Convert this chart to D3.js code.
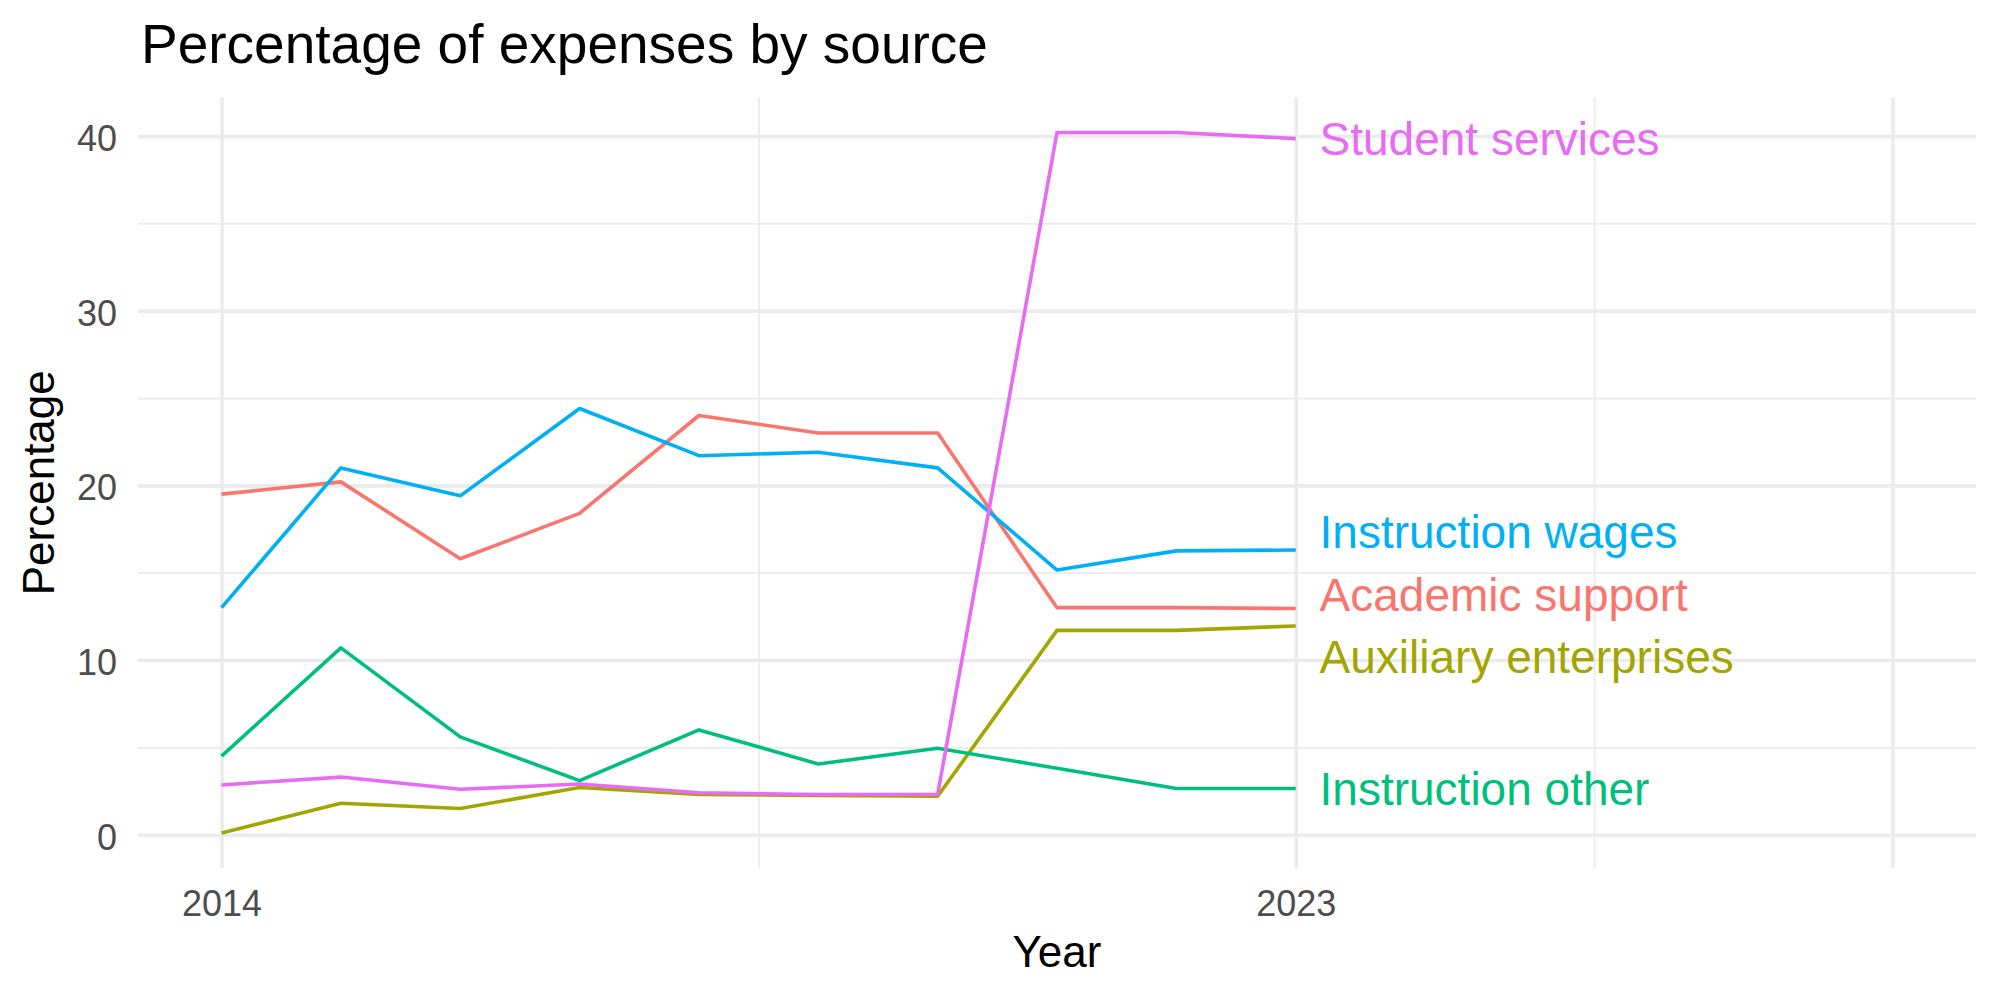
<!DOCTYPE html>
<html>
<head>
<meta charset="utf-8">
<script src="https://cdn.jsdelivr.net/npm/d3@7"></script>
<style>
  body { margin: 0; background: #fff; }
  svg text { font-family: "Liberation Sans", Arial, Helvetica, sans-serif; }
</style>
</head>
<body>
<div id="chart"></div>
<script>
// chart values
var years = [2014, 2015, 2016, 2017, 2018, 2019, 2020, 2021, 2022, 2023];
var categories = ["Academic support", "Auxiliary enterprises", "Instruction other", "Instruction wages", "Student services"];
var academicSupport  = [19.5, 20.2, 15.8, 18.4, 24.0, 23.0, 23.0, 13.0, 13.0, 12.95];
var auxiliary        = [0.1, 1.8, 1.5, 2.7, 2.3, 2.25, 2.2, 11.7, 11.7, 11.95];
var instructionOther = [4.5, 10.7, 5.6, 3.1, 6.0, 4.05, 4.95, 3.8, 2.65, 2.65];
var instructionWages = [13.0, 21.0, 19.4, 24.4, 21.7, 21.9, 21.0, 15.15, 16.25, 16.3];
var studentServices  = [2.85, 3.3, 2.6, 2.9, 2.4, 2.3, 2.3, 40.2, 40.2, 39.85];
var xBreaks = [2014, 2023, 2028];
var xMinor = [2018.5, 2025.5];
var xLabels = [2014, 2023];
var yBreaks = [0, 10, 20, 30, 40];
var yMinor = [5, 15, 25, 35];

var seriesValues = [academicSupport, auxiliary, instructionOther, instructionWages, studentServices];
var colors = ["#F8766D", "#A3A500", "#00BF7D", "#00B0F6", "#E76BF3"];

var width = 2000, height = 1000;
var margin = {top: 97.5, right: 24, bottom: 132, left: 138};
var pw = width - margin.left - margin.right,
    ph = height - margin.top - margin.bottom;

var series = categories.map(function(c, i) {
  return {name: c, color: colors[i], values: years.map(function(y, j) { return {year: y, value: seriesValues[i][j]}; })};
});

// x runs to 2028 to leave room for the labels, ggplot style 5% padding
var xLo = 2014, xHi = 2028, xPad = (xHi - xLo) * 0.05;
var x = d3.scaleLinear().domain([xLo - xPad, xHi + xPad]).range([0, pw]);

var allVals = d3.merge(seriesValues);
var yLo = d3.min(allVals), yHi = d3.max(allVals), yPad = (yHi - yLo) * 0.05;
var y = d3.scaleLinear().domain([yLo - yPad, yHi + yPad]).range([ph, 0]);

var svg = d3.select("#chart").append("svg")
  .attr("width", width)
  .attr("height", height);

var g = svg.append("g")
  .attr("transform", "translate(" + margin.left + "," + margin.top + ")");

// grid lines (minor first, then major)
function grid(axis, cls, sw) {
  var a = g.append("g").attr("class", cls);
  a.call(axis);
  a.select(".domain").remove();
  a.selectAll("line").attr("stroke", "#EBEBEB").attr("stroke-width", sw);
  a.selectAll("text").remove();
  return a;
}
grid(d3.axisLeft(y).tickValues(yMinor).tickSize(-pw).tickFormat(""), "ygrid-minor", 1.8);
grid(d3.axisBottom(x).tickValues(xMinor).tickSize(ph).tickFormat(""), "xgrid-minor", 1.8);
grid(d3.axisLeft(y).tickValues(yBreaks).tickSize(-pw).tickFormat(""), "ygrid", 3.6);
grid(d3.axisBottom(x).tickValues(xBreaks).tickSize(ph).tickFormat(""), "xgrid", 3.6);

// tick labels
var yAxis = g.append("g")
  .call(d3.axisLeft(y).tickValues(yBreaks).tickSize(0).tickPadding(21).tickFormat(d3.format("d")));
yAxis.select(".domain").remove();
yAxis.selectAll("text")
  .attr("dy", "0.4em")
  .style("font-size", "36px")
  .style("fill", "#4D4D4D");

var xAxis = g.append("g")
  .attr("transform", "translate(0," + ph + ")")
  .call(d3.axisBottom(x).tickValues(xLabels).tickSize(0).tickPadding(22).tickFormat(d3.format("d")));
xAxis.select(".domain").remove();
xAxis.selectAll("text")
  .style("font-size", "36px")
  .style("fill", "#4D4D4D");

// lines
var line = d3.line()
  .x(function(d) { return x(d.year); })
  .y(function(d) { return y(d.value); });

g.selectAll("path.series")
  .data(series)
  .enter().append("path")
  .attr("class", "series")
  .attr("d", function(d) { return line(d.values); })
  .attr("fill", "none")
  .attr("stroke", function(d) { return d.color; })
  .attr("stroke-width", 3.6)
  .attr("stroke-linejoin", "round");

// end labels, pushed apart when they would overlap
var minGap = 62.5;
var labels = series.map(function(s) {
  var last = s.values[s.values.length - 1];
  return {name: s.name, color: s.color, end: y(last.value), x: x(last.year + 0.2)};
}).sort(function(a, b) { return a.end - b.end; });

var groups = labels.map(function(l) { return [l]; });
var merged = true;
while (merged) {
  merged = false;
  for (var i = 0; i < groups.length - 1; i++) {
    var a = groups[i], b = groups[i + 1];
    var ca = d3.mean(a, function(d) { return d.end; }), cb = d3.mean(b, function(d) { return d.end; });
    var botA = ca + (a.length - 1) * minGap / 2, topB = cb - (b.length - 1) * minGap / 2;
    if (topB - botA < minGap) {
      groups.splice(i, 2, a.concat(b));
      merged = true;
      break;
    }
  }
}
groups.forEach(function(grp) {
  var c = d3.mean(grp, function(d) { return d.end; });
  grp.forEach(function(l, k) { l.pos = c + (k - (grp.length - 1) / 2) * minGap; });
});

g.selectAll("text.endlabel")
  .data(labels)
  .enter().append("text")
  .attr("class", "endlabel")
  .attr("x", function(d) { return d.x; })
  .attr("y", function(d) { return d.pos; })
  .attr("dy", "0.35em")
  .style("font-size", "46px")
  .style("fill", function(d) { return d.color; })
  .text(function(d) { return d.name; });

// titles
svg.append("text")
  .attr("x", 141)
  .attr("y", 63)
  .style("font-size", "55px")
  .style("fill", "#000")
  .text("Percentage of expenses by source");

svg.append("text")
  .attr("x", margin.left + pw / 2)
  .attr("y", 967)
  .attr("text-anchor", "middle")
  .style("font-size", "44px")
  .style("fill", "#000")
  .text("Year");

svg.append("text")
  .attr("transform", "translate(54," + (margin.top + ph / 2) + ") rotate(-90)")
  .attr("text-anchor", "middle")
  .style("font-size", "44px")
  .style("fill", "#000")
  .text("Percentage");
</script>
</body>
</html>
